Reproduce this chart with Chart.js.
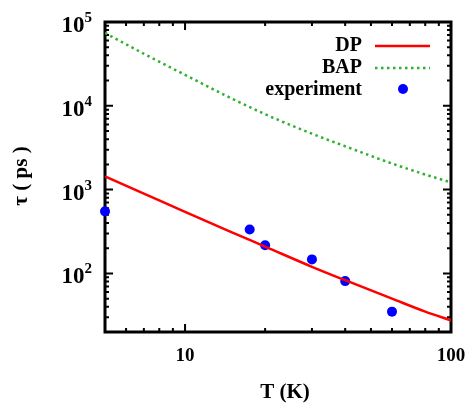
<!DOCTYPE html>
<html>
<head>
<meta charset="utf-8">
<script src="https://cdn.jsdelivr.net/npm/chart.js@4/dist/chart.umd.min.js"></script>
<style>
  html, body { margin: 0; padding: 0; background: #fff; }
  #wrap { width: 470px; height: 407px; position: relative; }
</style>
</head>
<body>
<div id="wrap"><canvas id="tauChart"></canvas></div>
<script>
// ===== Data =====
const T_DP = [5, 7, 10, 15, 20, 30, 40, 60, 80, 100];
const TAU_DP = [1440, 896, 541, 309, 209, 120, 83, 50, 35, 27.6];

const T_BAP = [5, 7, 10, 15, 20, 30, 40, 60, 80, 100];
const TAU_BAP = [74000, 41800, 23400, 12200, 7940, 4650, 3290, 2050, 1514, 1220];

const T_EXP = [5, 17.5, 20, 30, 40, 60];
const TAU_EXP = [550, 334, 217, 147, 81, 35];

const X_TICKS = [10, 100];
const Y_DECADES = [2, 3, 4, 5];

const FONT = '"Liberation Serif", "DejaVu Serif", serif';
const GREEN = "#2fb02f";

function pts(xs, ys) {
  return xs.map((x, i) => ({ x: x, y: ys[i] }));
}

// Frame, inward ticks and tick labels
const axesPlugin = {
  id: "axesPlugin",
  beforeDatasetsDraw(chart) {
    const { ctx, chartArea: a, scales: { x, y } } = chart;
    ctx.save();
    ctx.strokeStyle = "#000";
    ctx.lineWidth = 2;
    // x ticks (bottom + top)
    for (let d = 1; d <= 100; d *= 10) {
      for (let m = 1; m <= 9; m++) {
        const v = d * m;
        if (v < x.min || v > x.max) continue;
        const px = x.getPixelForValue(v);
        const len = m === 1 ? 8 : 4;
        ctx.beginPath();
        ctx.moveTo(px, a.bottom); ctx.lineTo(px, a.bottom - len);
        ctx.moveTo(px, a.top); ctx.lineTo(px, a.top + len);
        ctx.stroke();
      }
    }
    // y ticks (left + right)
    for (let d = 10; d <= 100000; d *= 10) {
      for (let m = 1; m <= 9; m++) {
        const v = d * m;
        if (v < y.min || v > y.max) continue;
        const py = y.getPixelForValue(v);
        const len = m === 1 ? 8 : 4;
        ctx.beginPath();
        ctx.moveTo(a.left, py); ctx.lineTo(a.left + len, py);
        ctx.moveTo(a.right, py); ctx.lineTo(a.right - len, py);
        ctx.stroke();
      }
    }
    // frame
    ctx.lineWidth = 3;
    ctx.strokeRect(a.left, a.top, a.right - a.left, a.bottom - a.top);

    // tick labels
    ctx.fillStyle = "#000";
    ctx.textBaseline = "middle";
    ctx.textAlign = "center";
    ctx.font = "bold 19px " + FONT;
    X_TICKS.forEach(v => {
      ctx.fillText(String(v), x.getPixelForValue(v), a.bottom + 24);
    });
    Y_DECADES.forEach(e => {
      const py = y.getPixelForValue(Math.pow(10, e));
      ctx.font = "bold 15px " + FONT;
      const ew = ctx.measureText(String(e)).width;
      ctx.textAlign = "left";
      ctx.textBaseline = "alphabetic";
      const right = a.left - 13;
      ctx.fillText(String(e), right - ew, py);
      ctx.font = "bold 23px " + FONT;
      ctx.textAlign = "right";
      ctx.fillText("10", right - ew, py + 10);
    });

    // axis titles
    ctx.font = "bold 21px " + FONT;
    ctx.textAlign = "center";
    ctx.textBaseline = "middle";
    ctx.fillText("T (K)", 285, 393);
    ctx.save();
    ctx.translate(22, 176);
    ctx.rotate(-Math.PI / 2);
    ctx.fillText("\u03c4 ( ps )", 0, 0);
    ctx.restore();
    ctx.restore();
  },
  afterDraw(chart) {
    // legend: text right aligned, sample on the right
    const { ctx } = chart;
    ctx.save();
    ctx.font = "bold 20px " + FONT;
    ctx.fillStyle = "#000";
    ctx.textAlign = "right";
    ctx.textBaseline = "middle";
    ctx.fillText("DP", 362, 46);
    ctx.fillText("BAP", 362, 68);
    ctx.fillText("experiment", 362, 90);

    ctx.strokeStyle = "#ff0000";
    ctx.lineWidth = 2.5;
    ctx.beginPath(); ctx.moveTo(375, 46); ctx.lineTo(430, 46); ctx.stroke();

    ctx.strokeStyle = GREEN;
    ctx.setLineDash([2.5, 3.5]);
    ctx.beginPath(); ctx.moveTo(375, 68); ctx.lineTo(430, 68); ctx.stroke();
    ctx.setLineDash([]);

    ctx.fillStyle = "#0000ff";
    ctx.beginPath(); ctx.arc(403, 89, 5, 0, Math.PI * 2); ctx.fill();
    ctx.restore();
  }
};

new Chart(document.getElementById("tauChart"), {
  type: "line",
  data: {
    datasets: [
      {
        label: "DP",
        data: pts(T_DP, TAU_DP),
        borderColor: "#ff0000",
        borderWidth: 2.5,
        pointRadius: 0,
        cubicInterpolationMode: "monotone",
      },
      {
        label: "BAP",
        data: pts(T_BAP, TAU_BAP),
        borderColor: GREEN,
        borderWidth: 2.5,
        borderDash: [2.5, 3.5],
        pointRadius: 0,
        cubicInterpolationMode: "monotone",
      },
      {
        label: "experiment",
        data: pts(T_EXP, TAU_EXP),
        showLine: false,
        pointRadius: 5,
        pointBackgroundColor: "#0000ff",
        pointBorderWidth: 0,
        borderColor: "#0000ff",
        clip: false,
      },
    ],
  },
  options: {
    responsive: true,
    maintainAspectRatio: false,
    animation: false,
    layout: { padding: { left: 105, right: 19, top: 22, bottom: 75 } },
    plugins: { legend: { display: false }, tooltip: { enabled: false } },
    scales: {
      x: { type: "logarithmic", min: 5, max: 100, display: false },
      y: { type: "logarithmic", min: 20, max: 100000, display: false },
    },
  },
  plugins: [axesPlugin],
});
</script>
</body>
</html>
